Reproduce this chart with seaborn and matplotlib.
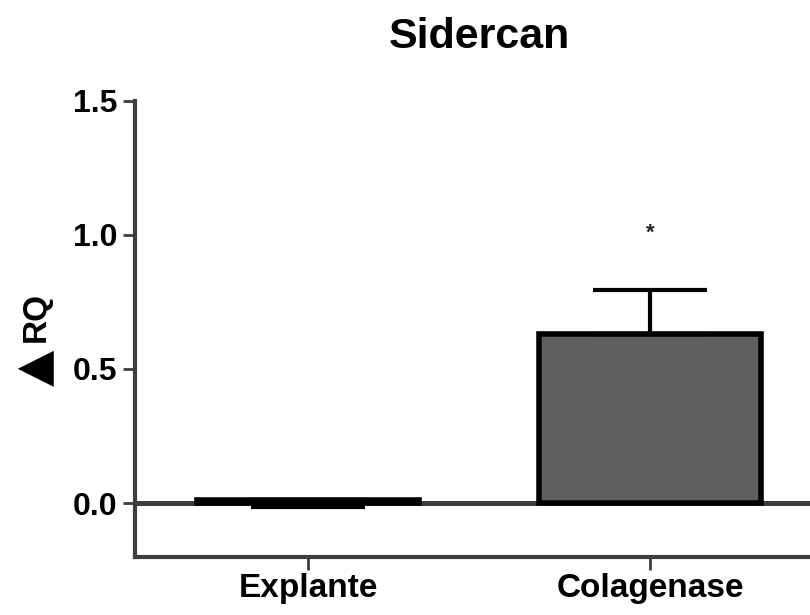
import matplotlib
matplotlib.use("Agg")
import matplotlib.pyplot as plt
import seaborn as sns
import pandas as pd

# Sidecan expression (ΔRQ) per culture condition
groups = ["Explante", "Colagenase"]
means = [0.01, 0.63]
err_low = [0.025, 0.0]
err_high = [0.0, 0.165]
y_ticks = [0.0, 0.5, 1.0, 1.5]
star_y = 0.985

sns.set_theme(style="white")
plt.rcParams["font.family"] = ["Liberation Sans", "DejaVu Sans"]
plt.rcParams["font.weight"] = "bold"
plt.rcParams["text.color"] = "black"

df = pd.DataFrame({"grupo": groups, "rq": means})

fig = plt.figure(figsize=(8.10, 6.15), dpi=100)
ax = fig.add_axes([0.1667, 0.0948, 0.8333, 0.7415])

axis_col = "#3d3d3d"
ax.axhline(0, color=axis_col, lw=3.6, zorder=0.5)

sns.barplot(data=df, x="grupo", y="rq", color="#5f5f5f", saturation=1,
            edgecolor="black", linewidth=4, width=0.65, errorbar=None,
            ax=ax, zorder=2)

ax.errorbar(x=[0, 1], y=means, yerr=[err_low, err_high], fmt="none",
            ecolor="black", elinewidth=3, capsize=41, capthick=3, zorder=3)

ax.text(1, star_y, "*", ha="center", va="baseline", fontsize=16,
        fontweight="bold", color="#222222")

ax.set_xlim(-0.506, 1.468)
ax.set_ylim(-0.2, 1.5)
ax.set_yticks(y_ticks)
ax.set_yticklabels([f"{v:.1f}" for v in y_ticks])
ax.set_xlabel("")
ax.set_ylabel("")

for side in ["top", "right"]:
    ax.spines[side].set_visible(False)
for side in ["left", "bottom"]:
    ax.spines[side].set_color(axis_col)
    ax.spines[side].set_linewidth(3)

ax.tick_params(axis="y", direction="out", length=8.5, width=2, color=axis_col,
               pad=4, labelsize=23, labelcolor="black", left=True)
ax.tick_params(axis="x", direction="out", length=9, width=2, color=axis_col,
               pad=3, labelsize=24, labelcolor="black", bottom=True)
for lbl in ax.get_xticklabels() + ax.get_yticklabels():
    lbl.set_fontweight("bold")

fig.text(479 / 810, 1 - 48 / 615, "Sidercan", ha="center", va="baseline",
         fontsize=31, fontweight="bold", color="black")

# y-axis label: a large delta triangle followed by "RQ", read bottom to top
fig.text(36 / 810, 1 - 368 / 615, "▲", rotation=90, ha="center",
         va="center", fontsize=34, family="DejaVu Sans", color="black")
fig.text(36 / 810, 1 - 317 / 615, "RQ", rotation=90, ha="center",
         va="center", fontsize=24, fontweight="bold", color="black")

fig.savefig("out.png", dpi=100)
